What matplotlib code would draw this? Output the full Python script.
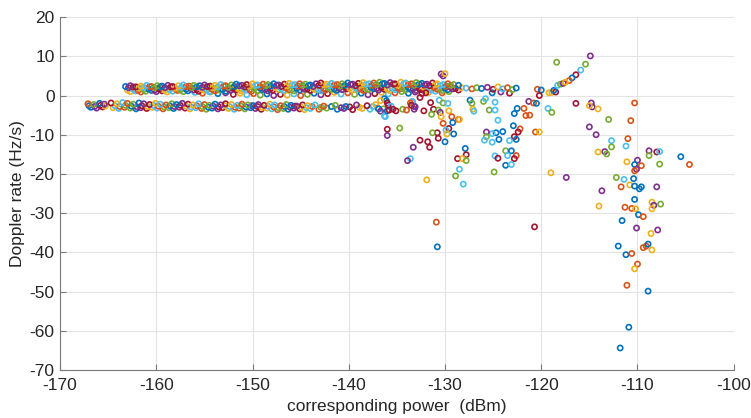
import matplotlib
matplotlib.use("Agg")
import matplotlib.pyplot as plt
import numpy as np

# MATLAB default colour order, one colour per series
series_colors = ["#0072BD", "#D95319", "#EDB120", "#7E2F8E", "#77AC30", "#4DBEEE", "#A2142F"]

# dense upper band (x dBm, Doppler rate Hz/s)
upper_top = [
    (-163.2, 2.3), (-162.7, 2.5), (-162.1, 2.2), (-161.6, 2.4), (-161.0, 2.6), (-160.5, 2.3),
    (-159.9, 2.5), (-159.4, 2.4), (-158.8, 2.6), (-158.3, 2.3), (-157.7, 2.5), (-157.2, 2.7),
    (-156.6, 2.4), (-156.1, 2.6), (-155.5, 2.5), (-155.0, 2.7), (-154.4, 2.4), (-153.9, 2.6),
    (-153.3, 2.8), (-152.8, 2.5), (-152.2, 2.7), (-151.7, 2.9), (-151.1, 2.6), (-150.6, 2.8),
    (-150.0, 3.0), (-149.5, 2.7), (-148.9, 2.9), (-148.4, 2.8), (-147.8, 3.0), (-147.3, 2.7),
    (-146.7, 2.9), (-146.2, 3.1), (-145.6, 2.8), (-145.1, 3.0), (-144.5, 2.9), (-144.0, 2.7),
    (-143.4, 3.0), (-142.9, 3.2), (-142.3, 2.9), (-141.8, 3.1), (-141.2, 2.8), (-140.7, 3.0),
    (-140.1, 3.2), (-139.6, 2.9), (-139.0, 3.1), (-138.5, 3.3), (-137.9, 3.0), (-137.4, 3.2),
    (-136.8, 3.4), (-136.3, 3.1), (-135.7, 3.3), (-135.2, 3.0), (-134.6, 3.4), (-134.1, 3.2),
    (-133.5, 3.0), (-133.0, 3.3), (-132.4, 3.1), (-131.9, 2.9), (-131.3, 3.2), (-130.8, 3.0),
    (-130.2, 2.8), (-129.7, 3.0), (-129.1, 2.8), (-128.6, 2.6),
]
upper_top_b = [
    (-162.9, 2.0), (-162.4, 2.2), (-161.8, 1.9), (-161.3, 2.1), (-160.7, 2.3), (-160.2, 2.0),
    (-159.6, 2.2), (-159.1, 2.0), (-158.5, 2.2), (-158.0, 1.9), (-157.4, 2.1), (-156.9, 2.3),
    (-156.3, 2.0), (-155.8, 2.2), (-155.2, 2.1), (-154.7, 2.3), (-154.1, 2.0), (-153.6, 2.2),
    (-153.0, 2.4), (-152.5, 2.1), (-151.9, 2.3), (-151.4, 2.5), (-150.8, 2.2), (-150.3, 2.4),
    (-149.7, 2.6), (-149.2, 2.3), (-148.6, 2.5), (-148.1, 2.4), (-147.5, 2.6), (-147.0, 2.3),
    (-146.4, 2.5), (-145.9, 2.7), (-145.3, 2.4), (-144.8, 2.6), (-144.2, 2.5), (-143.7, 2.3),
    (-143.1, 2.6), (-142.6, 2.8), (-142.0, 2.5), (-141.5, 2.7), (-140.9, 2.4), (-140.4, 2.6),
    (-139.8, 2.8), (-139.3, 2.5), (-138.7, 2.7), (-138.2, 2.9), (-137.6, 2.6), (-137.1, 2.8),
    (-136.5, 3.0), (-136.0, 2.7), (-135.4, 2.9), (-134.9, 2.6), (-134.3, 3.0), (-133.8, 2.8),
    (-133.2, 2.6), (-132.7, 2.9), (-132.1, 2.7), (-131.6, 2.5), (-131.0, 2.8), (-130.5, 2.6),
    (-129.9, 2.4), (-129.4, 2.6),
]
upper_mid = [
    (-163.0, 1.4), (-162.4, 1.6), (-161.9, 1.3), (-161.3, 1.5), (-160.8, 1.7), (-160.2, 1.4),
    (-159.7, 1.6), (-159.1, 1.3), (-158.6, 1.5), (-158.0, 1.7), (-157.5, 1.4), (-156.9, 1.6),
    (-156.4, 1.8), (-155.8, 1.5), (-155.3, 1.7), (-154.7, 1.4), (-154.2, 1.6), (-153.6, 1.8),
    (-153.1, 1.5), (-152.5, 1.7), (-152.0, 1.9), (-151.4, 1.6), (-150.9, 1.8), (-150.3, 1.5),
    (-149.8, 1.7), (-149.2, 1.9), (-148.7, 1.6), (-148.1, 1.8), (-147.6, 2.0), (-147.0, 1.7),
    (-146.5, 1.9), (-145.9, 1.6), (-145.4, 1.8), (-144.8, 2.0), (-144.3, 1.7), (-143.7, 1.9),
    (-143.2, 1.6), (-142.6, 1.8), (-142.1, 2.0), (-141.5, 1.7), (-141.0, 1.9), (-140.4, 2.1),
    (-139.9, 1.8), (-139.3, 2.0), (-138.8, 1.7), (-138.2, 1.9), (-137.7, 2.1), (-137.1, 1.8),
    (-136.6, 2.0), (-136.0, 1.7), (-135.5, 1.9), (-134.9, 2.1), (-134.4, 1.8), (-133.8, 2.0),
    (-133.3, 1.7), (-132.7, 1.9), (-132.2, 2.1), (-131.6, 1.8), (-131.1, 2.0), (-130.5, 1.7),
    (-130.0, 1.9), (-129.4, 2.1), (-128.9, 1.8), (-128.3, 2.0), (-127.8, 1.9), (-127.2, 1.7),
    (-126.7, 2.0), (-126.2, 1.8), (-125.6, 2.1), (-125.0, 1.6), (-124.5, 2.2), (-124.0, 1.7),
    (-123.5, 2.0), (-123.0, 1.5), (-122.6, 1.9),
]
upper_mid_b = [
    (-162.7, 1.0), (-162.2, 1.2), (-161.6, 0.9), (-161.1, 1.1), (-160.5, 1.3), (-160.0, 1.0),
    (-159.4, 1.2), (-158.9, 0.9), (-158.3, 1.1), (-157.8, 1.3), (-157.2, 1.0), (-156.7, 1.2),
    (-156.1, 1.4), (-155.6, 1.1), (-155.0, 1.3), (-154.5, 1.0), (-153.9, 1.2), (-153.4, 1.4),
    (-152.8, 1.1), (-152.3, 1.3), (-151.7, 1.5), (-151.2, 1.2), (-150.6, 1.4), (-150.1, 1.1),
    (-149.5, 1.3), (-149.0, 1.5), (-148.4, 1.2), (-147.9, 1.4), (-147.3, 1.6), (-146.8, 1.3),
    (-146.2, 1.5), (-145.7, 1.2), (-145.1, 1.4), (-144.6, 1.6), (-144.0, 1.3), (-143.5, 1.5),
    (-142.9, 1.2), (-142.4, 1.4), (-141.8, 1.6), (-141.3, 1.3), (-140.7, 1.5), (-140.2, 1.7),
    (-139.6, 1.4), (-139.1, 1.6), (-138.5, 1.3), (-138.0, 1.5), (-137.4, 1.7), (-136.9, 1.4),
    (-136.3, 1.6), (-135.8, 1.3), (-135.2, 1.5), (-134.7, 1.7), (-134.1, 1.4), (-133.6, 1.6),
    (-133.0, 1.3), (-132.5, 1.5), (-131.9, 1.7), (-131.4, 1.4), (-130.8, 1.6), (-130.3, 1.3),
    (-129.7, 1.5), (-129.2, 1.7), (-128.6, 1.4),
]
upper_low = [
    (-156.0, 0.8), (-155.2, 0.6), (-154.4, 0.9), (-153.6, 0.5), (-152.8, 0.7), (-152.0, 0.3),
    (-151.3, 0.6), (-150.6, 0.2), (-149.9, 0.5), (-149.2, 0.1), (-148.5, 0.4), (-147.8, 0.0),
    (-147.1, 0.3), (-146.4, 0.1), (-145.7, 0.4), (-145.0, 0.0), (-144.3, 0.3), (-143.6, 0.6),
    (-142.9, 0.2), (-142.2, 0.5), (-141.5, 0.8), (-140.8, 0.4), (-140.1, 0.7), (-139.4, 0.3),
    (-138.7, 0.6), (-138.0, 0.2), (-137.3, 0.5), (-136.6, 0.8), (-135.9, 0.4), (-135.2, 0.7),
    (-134.5, 1.0), (-133.8, 0.6), (-133.1, 0.9), (-132.4, 0.5), (-131.7, 0.8), (-131.0, 1.1),
    (-130.3, 0.7), (-129.6, 1.0), (-125.1, 0.7), (-124.2, 0.9), (-123.3, 0.6),
]

# dense lower band
lower_top = [
    (-167.1, -2.1), (-166.5, -2.3), (-165.9, -2.0), (-165.4, -2.2), (-164.7, -1.9), (-164.1, -2.1),
    (-163.5, -1.8), (-163.0, -2.0), (-162.4, -2.2), (-161.8, -1.9), (-161.3, -2.1), (-160.7, -2.3),
    (-160.1, -2.0), (-159.6, -2.2), (-159.0, -2.4), (-158.4, -2.1), (-157.9, -2.3), (-157.3, -2.0),
    (-156.7, -2.2), (-156.2, -2.4), (-155.6, -2.1), (-155.0, -2.3), (-154.5, -2.5), (-153.9, -2.2),
    (-153.3, -2.4), (-152.8, -2.1), (-152.2, -2.3), (-151.6, -2.5), (-151.1, -2.2), (-150.5, -2.4),
    (-149.9, -2.6), (-149.4, -2.3), (-148.8, -2.5), (-148.2, -2.2), (-147.7, -2.4), (-147.1, -2.6),
    (-146.5, -2.3), (-146.0, -2.5), (-145.4, -2.7), (-144.8, -2.4), (-144.3, -2.6), (-143.5, -2.4),
    (-142.6, -2.7), (-141.4, -2.5), (-140.3, -2.8), (-139.2, -2.4), (-138.1, -2.6), (-137.2, -2.3),
]
lower_mid = [
    (-167.0, -2.6), (-166.4, -2.8), (-165.8, -2.5), (-165.3, -2.7), (-164.3, -2.6), (-163.8, -2.8),
    (-163.2, -2.5), (-162.6, -2.7), (-162.0, -2.9), (-161.5, -2.6), (-160.9, -2.8), (-160.3, -2.5),
    (-159.8, -2.7), (-159.2, -2.9), (-158.6, -2.6), (-158.1, -2.8), (-157.5, -2.5), (-156.9, -2.7),
    (-156.4, -2.9), (-155.8, -2.6), (-155.2, -2.8), (-154.6, -3.0), (-154.1, -2.7), (-153.5, -2.9),
    (-152.9, -2.6), (-152.4, -2.8), (-151.8, -3.0), (-151.2, -2.7), (-150.7, -2.9), (-150.1, -2.6),
    (-149.5, -2.8), (-149.0, -3.0), (-148.4, -2.7), (-147.8, -2.9), (-147.3, -3.1), (-146.7, -2.8),
    (-146.1, -3.0), (-145.6, -2.7), (-145.0, -2.9), (-144.4, -3.1), (-143.8, -2.8), (-142.9, -3.0),
    (-141.8, -2.8), (-140.8, -3.1), (-139.9, -2.9), (-138.9, -3.0), (-137.5, -2.8),
]
lower_bot = [
    (-166.8, -3.0), (-166.2, -3.2), (-165.6, -2.9), (-164.5, -3.1), (-163.9, -3.3), (-163.3, -3.0),
    (-162.7, -3.2), (-162.1, -3.4), (-161.6, -3.1), (-161.0, -3.3), (-160.4, -3.0), (-159.9, -3.2),
    (-159.3, -3.4), (-158.7, -3.1), (-158.2, -3.3), (-157.6, -3.0), (-157.0, -3.2), (-156.5, -3.4),
    (-155.9, -3.1), (-155.3, -3.3), (-154.8, -3.5), (-154.2, -3.2), (-153.6, -3.4), (-153.1, -3.1),
    (-152.5, -3.3), (-151.9, -3.5), (-151.4, -3.2), (-150.8, -3.4), (-150.2, -3.1), (-149.7, -3.3),
    (-149.1, -3.5), (-148.5, -3.2), (-148.0, -3.4), (-147.4, -3.6), (-146.8, -3.3), (-146.3, -3.5),
    (-145.7, -3.2), (-145.1, -3.4), (-144.6, -3.6), (-144.0, -3.3), (-143.1, -3.5), (-142.3, -3.2),
    (-141.2, -3.5), (-140.5, -3.3), (-139.6, -3.6), (-138.6, -3.3), (-137.8, -3.5), (-137.0, -3.2),
    (-136.4, -3.4),
]

# scattered points: (power dBm, Doppler rate Hz/s, series index)
scattered = [
    (-130.4, 5.5, 3), (-130.2, 5.0, 3), (-130.0, 5.6, 2),
    (-132.6, -0.5, 6), (-131.5, -1.8, 6), (-133.2, -2.7, 3), (-133.4, -1.6, 1),
    (-131.2, -3.5, 6), (-131.4, -4.8, 4), (-130.7, -3.7, 4), (-130.5, -4.3, 3),
    (-130.6, -1.2, 5), (-130.2, -1.9, 4), (-129.7, -2.0, 5), (-129.6, -3.9, 2),
    (-130.4, -5.4, 2), (-129.3, -5.4, 1), (-129.2, -6.9, 0), (-128.6, -6.1, 1),
    (-130.2, -7.1, 1), (-129.6, -8.4, 6), (-129.9, -8.8, 5), (-129.8, -9.8, 2),
    (-130.0, -11.8, 0), (-129.1, -9.8, 0), (-130.8, -9.5, 6), (-131.3, -9.5, 4),
    (-130.7, -10.9, 6), (-132.6, -11.4, 6), (-131.8, -11.8, 6), (-131.6, -13.2, 6),
    (-133.3, -13.2, 3), (-136.0, -8.6, 6), (-136.0, -10.2, 3), (-134.7, -8.3, 4),
    (-133.6, -16.1, 5), (-133.9, -16.6, 3), (-131.9, -21.5, 2),
    (-127.9, -13.5, 0), (-127.8, -15.1, 6), (-128.7, -16.1, 6), (-128.2, -16.1, 2),
    (-127.8, -16.6, 4), (-128.5, -18.8, 5), (-128.9, -20.5, 4), (-128.1, -22.6, 5),
    (-136.2, -5.4, 5),
    (-118.4, 8.5, 4),
    (-120.4, 1.6, 1), (-120.0, 1.4, 0), (-120.2, 0.0, 6),
    (-119.2, 0.7, 2), (-118.9, 0.8, 2), (-118.5, 0.9, 6), (-118.7, 1.3, 0),
    (-118.3, 2.6, 5), (-118.0, 2.9, 4), (-117.7, 3.1, 3),
    (-127.4, -1.2, 0), (-127.2, -2.0, 4), (-126.0, -1.5, 4), (-125.8, -0.8, 5),
    (-124.8, -1.7, 5), (-125.4, -3.7, 4), (-124.8, -3.7, 5), (-127.1, -3.5, 2),
    (-127.0, -4.0, 5), (-122.5, -3.3, 0), (-121.8, -3.3, 1), (-122.8, -4.6, 0),
    (-121.6, -5.1, 1), (-121.2, -5.0, 1), (-121.3, -1.5, 3), (-120.8, -1.9, 1),
    (-120.5, -2.0, 0), (-119.3, -3.3, 5), (-118.9, -4.3, 4), (-124.5, -6.3, 5),
    (-128.5, -6.1, 2), (-122.9, -7.7, 0), (-122.2, -8.5, 1), (-122.4, -9.3, 6),
    (-124.0, -9.2, 0), (-124.7, -9.5, 0), (-125.1, -9.7, 5), (-125.7, -9.3, 3),
    (-125.7, -10.5, 4), (-125.9, -11.4, 5), (-125.1, -11.9, 5), (-124.4, -11.2, 0),
    (-122.8, -10.5, 6), (-122.6, -11.2, 0), (-123.3, -11.5, 5),
    (-120.6, -9.3, 1), (-120.2, -9.3, 2),
    (-123.7, -14.1, 4), (-123.1, -14.1, 0), (-122.6, -15.3, 1), (-122.8, -16.1, 6),
    (-123.5, -15.3, 5), (-124.8, -15.4, 5), (-124.5, -16.0, 6), (-123.7, -17.8, 0),
    (-123.1, -17.6, 5), (-124.9, -19.5, 4), (-119.0, -19.7, 2), (-117.4, -20.9, 3),
    (-114.9, 10.1, 3), (-115.4, 8.0, 4), (-115.9, 6.5, 5), (-116.4, 5.3, 6),
    (-116.8, 4.5, 0), (-117.1, 3.8, 1), (-117.5, 3.4, 2),
    (-116.4, -2.0, 6), (-114.8, -1.9, 3), (-114.7, -2.9, 3), (-115.0, -2.6, 2),
    (-114.1, -3.4, 2), (-113.0, -6.1, 4), (-115.0, -8.0, 3), (-114.3, -10.0, 3),
    (-112.7, -11.5, 5), (-112.7, -13.1, 4), (-113.4, -14.3, 3), (-113.2, -14.9, 4),
    (-114.1, -14.4, 2), (-112.2, -20.9, 4), (-113.7, -24.3, 3), (-114.0, -28.2, 2),
    (-112.0, -38.4, 0),
    (-110.3, -1.9, 1), (-110.7, -6.4, 1), (-111.0, -11.0, 1), (-111.2, -12.9, 5),
    (-108.8, -14.1, 3), (-108.8, -15.3, 4), (-108.0, -14.4, 6), (-107.7, -14.3, 5),
    (-105.5, -15.6, 0), (-104.6, -17.6, 1), (-107.7, -17.5, 4), (-111.1, -16.9, 2),
    (-110.0, -16.5, 3), (-110.3, -17.6, 0), (-109.6, -17.9, 1), (-110.1, -18.8, 3),
    (-110.3, -19.2, 1), (-111.4, -21.4, 5), (-110.4, -21.2, 0), (-111.7, -23.3, 1),
    (-110.8, -22.8, 2), (-110.3, -23.1, 0), (-109.8, -23.8, 0), (-109.6, -23.3, 0),
    (-108.0, -23.3, 3), (-110.3, -26.5, 0), (-111.3, -28.5, 1), (-110.6, -28.8, 1),
    (-110.2, -28.9, 2), (-108.5, -27.2, 2), (-108.3, -28.0, 3), (-108.5, -28.9, 2),
    (-107.6, -27.7, 4), (-109.9, -30.4, 0), (-109.4, -30.9, 1), (-111.6, -31.9, 0),
    (-110.1, -33.8, 3), (-107.9, -34.3, 3), (-108.6, -35.2, 2), (-111.2, -40.6, 0),
    (-110.6, -40.3, 1), (-109.4, -38.8, 1), (-109.1, -38.4, 1), (-108.9, -37.9, 0),
    (-108.5, -39.4, 2), (-110.0, -43.0, 1), (-110.3, -44.2, 2), (-111.1, -48.4, 1),
    (-108.9, -49.9, 0), (-110.9, -59.1, 0), (-111.8, -64.4, 0),
    (-130.9, -32.3, 1), (-130.8, -38.6, 0), (-120.7, -33.5, 6),
    (-136.3, -0.8, 0), (-136.1, -1.3, 0), (-136.0, -1.9, 6), (-135.9, -2.4, 6), (-135.6, -2.7, 5),
    (-136.7, -1.3, 2), (-136.9, -3.4, 0), (-136.7, -4.0, 3), (-136.3, -5.2, 5), (-136.0, -3.9, 0),
    (-135.8, -3.7, 6), (-135.4, -3.5, 6), (-135.1, -3.9, 6), (-134.4, -3.5, 4), (-134.0, -3.7, 1),
    (-133.2, -3.5, 3), (-132.2, -3.9, 6), (-133.4, -1.5, 5), (-132.0, 0.7, 6),
    (-133.6, -1.9, 1), (-133.5, -2.5, 6), (-133.1, -2.9, 3),
]

x_ticks = [-170, -160, -150, -140, -130, -120, -110, -100]
y_ticks = [20, 10, 0, -10, -20, -30, -40, -50, -60, -70]

plt.rcParams["font.family"] = ["Liberation Sans", "DejaVu Sans"]
plt.rcParams["axes.unicode_minus"] = False

fig = plt.figure(figsize=(7.51, 4.18), dpi=100)
ax = fig.add_axes([0.080, 0.115, 0.897, 0.844])

band_pts = lower_bot + lower_mid + lower_top + upper_low + upper_mid_b + upper_mid + upper_top_b + upper_top
bx = np.array([p[0] for p in band_pts])
by = np.array([p[1] for p in band_pts])
bcol = [series_colors[(i * 3) % 7] for i in range(len(band_pts))]
ax.scatter(bx, by, s=14, facecolors="none", edgecolors=bcol, linewidths=1.2, zorder=3)

sx = np.array([p[0] for p in scattered])
sy = np.array([p[1] for p in scattered])
scol = [series_colors[p[2]] for p in scattered]
ax.scatter(sx, sy, s=14, facecolors="none", edgecolors=scol, linewidths=1.2, zorder=3)

ax.set_xlim(-170, -100)
ax.set_ylim(-70, 20)
ax.set_xticks(x_ticks)
ax.set_yticks(y_ticks)
ax.grid(True, color="#e3e3e3", linewidth=0.8)
ax.set_axisbelow(True)
for side in ["top", "right"]:
    ax.spines[side].set_visible(False)
for side in ["left", "bottom"]:
    ax.spines[side].set_color("#7a7a7a")
    ax.spines[side].set_linewidth(0.8)
ax.tick_params(direction="in", length=4, width=0.8, color="#7a7a7a",
               labelsize=12.5, labelcolor="#262626")
ax.tick_params(axis="x", pad=6)
ax.tick_params(axis="y", pad=4)
ax.set_xlabel("corresponding power  (dBm)", fontsize=12.5, color="#262626", labelpad=4)
ax.set_ylabel("Doppler rate (Hz/s)", fontsize=12.5, color="#262626", labelpad=3)

fig.savefig("out.png", dpi=100)
